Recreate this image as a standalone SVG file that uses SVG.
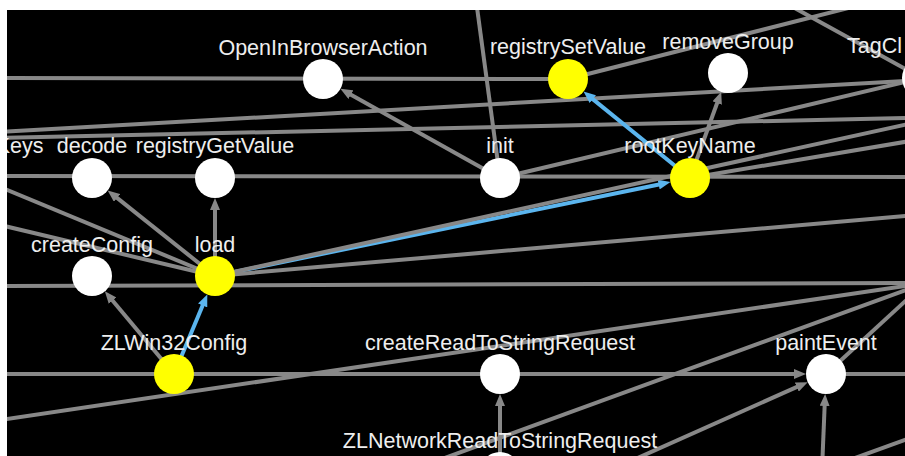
<svg xmlns="http://www.w3.org/2000/svg" width="905" height="456" viewBox="0 0 905 456">
<style>
.e{stroke:#888;stroke-width:4;fill:none}
.ea{stroke:#888;stroke-width:4;fill:none;marker-end:url(#ag)}
.b{stroke:#5bb5ee;stroke-width:4;fill:none;marker-end:url(#ab)}
.n{fill:#fff}
.y{fill:#ff0}
.t{fill:#eee;font-family:"Liberation Sans",Arial,sans-serif;font-size:21.5px;text-anchor:middle}
</style>
<defs>
<marker id="ag" viewBox="0 0 12 10" markerUnits="userSpaceOnUse" markerWidth="12" markerHeight="10" refX="4" refY="5" orient="auto"><path d="M0,0 L12,5 L0,10 z" fill="#888"/></marker>
<marker id="ab" viewBox="0 0 12 10" markerUnits="userSpaceOnUse" markerWidth="12" markerHeight="10" refX="4" refY="5" orient="auto"><path d="M0,0 L12,5 L0,10 z" fill="#5bb5ee"/></marker>
<clipPath id="c"><rect x="7" y="10" width="898" height="446"/></clipPath>
</defs>
<rect width="905" height="456" fill="#fff"/>
<rect x="7" y="10" width="898" height="446" fill="#000"/>
<g clip-path="url(#c)">
<g id="connectors">
<line class="b" x1="215" y1="276" x2="662.6" y2="183.7"/>
<line class="e" x1="0" y1="78" x2="568" y2="79"/>
<line class="e" x1="568" y1="79" x2="880" y2="0"/>
<line class="e" x1="476" y1="0" x2="500" y2="178"/>
<line class="e" x1="780" y1="0" x2="922" y2="78"/>
<line class="e" x1="0" y1="132" x2="922" y2="80"/>
<line class="e" x1="0" y1="138" x2="905" y2="118"/>
<line class="ea" x1="500" y1="178" x2="347.4" y2="92.7"/>
<line class="e" x1="500" y1="178" x2="922" y2="78"/>
<line class="e" x1="0" y1="176" x2="905" y2="177"/>
<line class="e" x1="0" y1="187" x2="215" y2="276"/>
<line class="e" x1="0" y1="225" x2="215" y2="276"/>
<line class="ea" x1="215" y1="276" x2="215" y2="206"/>
<line class="ea" x1="215" y1="276" x2="113.9" y2="195.4"/>
<line class="e" x1="215" y1="276" x2="940" y2="117"/>
<line class="e" x1="215" y1="276" x2="940" y2="213"/>
<line class="e" x1="0" y1="286" x2="925" y2="283"/>
<line class="ea" x1="174" y1="374" x2="110" y2="297.5"/>
<line class="e" x1="0" y1="420" x2="925" y2="283"/>
<line class="ea" x1="0" y1="374" x2="798" y2="374"/>
<line class="e" x1="826" y1="374" x2="905" y2="374"/>
<line class="e" x1="420" y1="467" x2="925" y2="283"/>
<line class="e" x1="826" y1="374" x2="925" y2="283"/>
<line class="ea" x1="530" y1="506" x2="800.4" y2="385.4"/>
<line class="ea" x1="822" y1="470" x2="824.8" y2="402"/>
<line class="e" x1="855" y1="458" x2="910" y2="438"/>
<line class="ea" x1="500" y1="472" x2="500" y2="402"/>
<line class="ea" x1="690" y1="178" x2="718.5" y2="99.3"/>
<line class="e" x1="690" y1="178" x2="940" y2="136"/>
<line class="b" x1="174" y1="374" x2="204.2" y2="301.8"/>
<line class="b" x1="690" y1="178" x2="589.7" y2="96.6"/>
</g>
<g id="OpenInBrowserAction"><circle class="n" cx="323" cy="79" r="20"/><text class="t" x="323" y="55">OpenInBrowserAction</text></g>
<g id="registrySetValue"><circle class="y" cx="568" cy="79" r="20"/><text class="t" x="568" y="54">registrySetValue</text></g>
<g id="removeGroup"><circle class="n" cx="728" cy="73" r="20"/><text class="t" x="728" y="49">removeGroup</text></g>
<g id="TagCl"><circle class="n" cx="922" cy="78" r="20"/><text class="t" x="847" y="53" style="text-anchor:start">TagCl</text></g>
<g id="Keys"><text class="t" x="43.5" y="153" style="text-anchor:end">Keys</text></g>
<g id="decode"><circle class="n" cx="92" cy="178" r="20"/><text class="t" x="92" y="153">decode</text></g>
<g id="registryGetValue"><circle class="n" cx="215" cy="178" r="20"/><text class="t" x="215" y="153">registryGetValue</text></g>
<g id="init"><circle class="n" cx="500" cy="178" r="20"/><text class="t" x="500" y="153">init</text></g>
<g id="rootKeyName"><circle class="y" cx="690" cy="178" r="20"/><text class="t" x="690" y="153">rootKeyName</text></g>
<g id="createConfig"><circle class="n" cx="92" cy="276" r="20"/><text class="t" x="92" y="252">createConfig</text></g>
<g id="load"><circle class="y" cx="215" cy="276" r="20"/><text class="t" x="215" y="252">load</text></g>
<g id="ZLWin32Config"><circle class="y" cx="174" cy="374" r="20"/><text class="t" x="174" y="350">ZLWin32Config</text></g>
<g id="createReadToStringRequest"><circle class="n" cx="500" cy="374" r="20"/><text class="t" x="500" y="350">createReadToStringRequest</text></g>
<g id="paintEvent"><circle class="n" cx="826" cy="374" r="20"/><text class="t" x="826" y="350">paintEvent</text></g>
<g id="ZLNetworkReadToStringRequest"><circle class="n" cx="500" cy="472" r="20"/><text class="t" x="500" y="448">ZLNetworkReadToStringRequest</text></g>
</g>
</svg>
